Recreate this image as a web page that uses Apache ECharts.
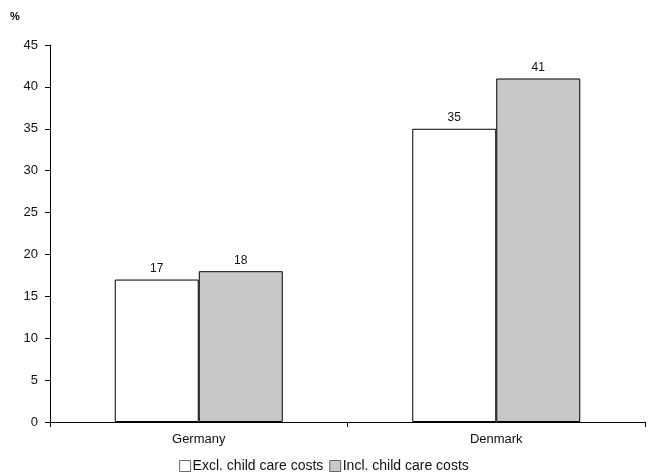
<!DOCTYPE html>
<html>
<head>
<meta charset="utf-8">
<script src="https://cdn.jsdelivr.net/npm/echarts@6/dist/echarts.min.js"></script>
<style>
  html, body { margin: 0; padding: 0; background: #fff; }
  #chart { width: 648px; height: 473px; }
</style>
</head>
<body>
<div id="chart"></div>
<script>
// Share of income (%), two countries, with and without child care costs
const countries = ['Germany', 'Denmark'];
const exclChildCare = [17, 35];
const inclChildCare = [18, 41];
const seriesNames = ['Excl. child care costs', 'Incl. child care costs'];
const yTicks = { min: 0, max: 45, step: 5 };

const font = 'Liberation Sans, Arial, sans-serif';
const chart = echarts.init(document.getElementById('chart'), null, { renderer: 'canvas' });

const labelStyle = {
  show: true,
  position: 'top',
  distance: 5,
  color: '#111',
  fontFamily: font,
  fontSize: 12
};

chart.setOption({
  animation: false,
  backgroundColor: '#ffffff',
  textStyle: { fontFamily: font },
  graphic: [{
    type: 'text',
    left: 10,
    top: 11,
    style: { text: '%', font: 'bold 11px ' + font, fill: '#000' }
  }],
  grid: { left: 50, right: 3, top: 45, bottom: 51 },
  legend: {
    bottom: 0,
    left: 'center',
    padding: 0,
    icon: 'rect',
    itemWidth: 11,
    itemHeight: 11,
    itemGap: 6,
    itemStyle: { borderColor: '#444', borderWidth: 0.8 },
    textStyle: { fontFamily: font, fontSize: 14, color: '#111', padding: [0, 0, 0, -3] },
    data: seriesNames.map(n => ({ name: n }))
  },
  xAxis: {
    type: 'category',
    data: countries,
    boundaryGap: true,
    axisLine: { lineStyle: { color: '#000', width: 1 } },
    axisTick: { show: true, alignWithLabel: false, length: 5, lineStyle: { color: '#000' } },
    axisLabel: { color: '#111', fontSize: 13, fontFamily: font, margin: 11 }
  },
  yAxis: {
    type: 'value',
    min: yTicks.min,
    max: yTicks.max,
    interval: yTicks.step,
    axisLine: { show: true, lineStyle: { color: '#000', width: 1 } },
    axisTick: { show: true, length: 5, lineStyle: { color: '#000' } },
    splitLine: { show: false },
    axisLabel: { color: '#111', fontSize: 13, fontFamily: font, margin: 12 }
  },
  series: [
    {
      name: seriesNames[0],
      type: 'bar',
      data: exclChildCare,
      barWidth: 84,
      barGap: '0%',
      itemStyle: { color: '#ffffff', borderColor: '#000', borderWidth: 1 },
      label: labelStyle
    },
    {
      name: seriesNames[1],
      type: 'bar',
      data: inclChildCare,
      barWidth: 84,
      barGap: '0%',
      itemStyle: { color: '#c8c8ca', borderColor: '#000', borderWidth: 1 },
      label: labelStyle
    }
  ]
});
</script>
</body>
</html>
